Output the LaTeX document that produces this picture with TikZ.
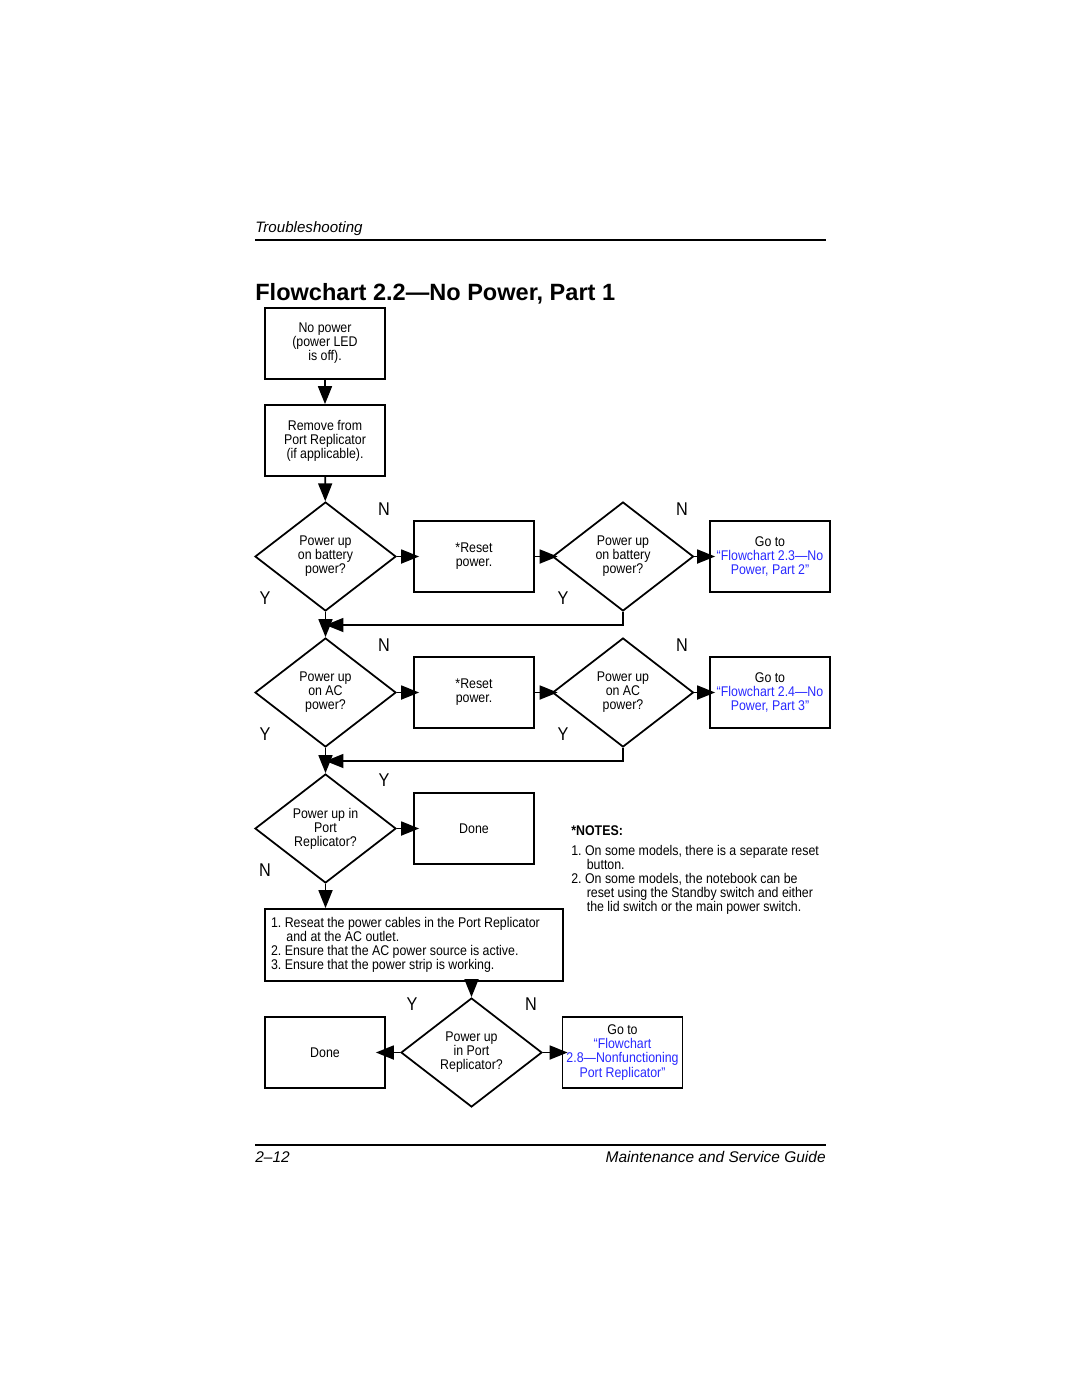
\documentclass[tikz,border=0pt]{standalone}
\usepackage{fontspec}
\setmainfont{Liberation Sans}
\newfontfamily\chartfont{Liberation Sans}[FakeStretch=0.88]
\usetikzlibrary{arrows.meta,shapes.geometric}
\definecolor{linkblue}{RGB}{40,40,255}
\frenchspacing
\tikzset{
  stepbox/.style={draw,line width=1pt,minimum width=2.4cm,minimum height=1.42cm,
    inner sep=0pt,align=center,font=\chartfont\fontsize{8}{8}\selectfont},
  query/.style={draw,diamond,line width=1pt,minimum width=2.82cm,minimum height=2.18cm,
    inner sep=0pt,align=center,font=\chartfont\fontsize{8}{8}\selectfont},
  yn/.style={inner sep=0pt,font=\chartfont\fontsize{10.5}{10.5}\selectfont},
  flow/.style={-{Triangle[length=0.36cm,width=0.28cm]},line width=1pt},
  into/.style={shorten >=-0.12cm},
}
\begin{document}
\begin{tikzpicture}[x=0.02cm,y=-0.02cm]
    \useasboundingbox (0,0) rectangle (1080,1397);

    % page header
    \node[anchor=base west,inner sep=0pt,font=\itshape\fontsize{8.6}{8.6}\selectfont] (head) at (255,232) {Troubleshooting};
    \draw[line width=0.6pt] (255,240) -- (826,240);
    \node[anchor=base west,inner sep=0pt,font=\bfseries\fontsize{13.4}{13.4}\selectfont] (title) at (255,300) {Flowchart 2.2—No Power, Part 1};

    % chart
    \node[stepbox] (nopower) at (325,343.5) {No power\\(power LED\\is off).};
    \node[stepbox] (remove)  at (325,440.5) {Remove from\\Port Replicator\\(if applicable).};

    \node[query]   (bat1)    at (325.5,556.5) {Power up\\on battery\\power?};
    \node[stepbox] (reset1)  at (474,556.5)   {*Reset\\power.};
    \node[query]   (bat2)    at (623,556.5)   {Power up\\on battery\\power?};
    \node[stepbox] (goto23)  at (770,556.5)   {Go to\\\textcolor{linkblue}{“Flowchart 2.3—No}\\\textcolor{linkblue}{Power, Part 2”}};

    \node[query]   (ac1)     at (325.5,692.5) {Power up\\on AC\\power?};
    \node[stepbox] (reset2)  at (474,692.5)   {*Reset\\power.};
    \node[query]   (ac2)     at (623,692.5)   {Power up\\on AC\\power?};
    \node[stepbox] (goto24)  at (770,692.5)   {Go to\\\textcolor{linkblue}{“Flowchart 2.4—No}\\\textcolor{linkblue}{Power, Part 3”}};

    \node[query]   (port1)   at (325.5,828.5) {Power up in\\Port\\Replicator?};
    \node[stepbox] (done1)   at (474,828.5)   {Done};

    \node[draw,line width=1pt,text width=5.72cm,inner xsep=0.12cm,minimum height=1.44cm,
          align=flush left,font=\chartfont\fontsize{8}{8}\selectfont] (fixes) at (414,945)
         {1. Reseat the power cables in the Port Replicator\\
          \hspace*{1.1em}and at the AC outlet.\\
          2. Ensure that the AC power source is active.\\
          3. Ensure that the power strip is working.};

    \node[query]   (port2)   at (471.5,1052.5) {Power up\\in Port\\Replicator?};
    \node[stepbox] (done2)   at (325,1052.5)   {Done};
    \node[stepbox] (goto28)  at (622.5,1052.5) {Go to\\\textcolor{linkblue}{“Flowchart}\\\textcolor{linkblue}{2.8—Nonfunctioning}\\\textcolor{linkblue}{Port Replicator”}};

    % Y / N labels
    \node[yn] (n1) at (384,509) {N};
    \node[yn] (n2) at (682,509) {N};
    \node[yn] (y1) at (265,598) {Y};
    \node[yn] (y2) at (563,598) {Y};
    \node[yn] (n3) at (384,645) {N};
    \node[yn] (n4) at (682,645) {N};
    \node[yn] (y3) at (265,734) {Y};
    \node[yn] (y4) at (563,734) {Y};
    \node[yn] (y5) at (384,780) {Y};
    \node[yn] (n5) at (265,870) {N};
    \node[yn] (y6) at (412,1004) {Y};
    \node[yn] (n6) at (531,1004) {N};

    \coordinate (joinA) at (325.5,625);
    \coordinate (joinB) at (325.5,761);

    \draw[flow] (nopower) -- (remove);
    \draw[flow] (remove) -- (bat1);
    \draw[flow,into] (bat1) -- (reset1);
    \draw[flow,into] (reset1) -- (bat2);
    \draw[flow,into] (bat2) -- (goto23);
    \draw[flow] (bat1) -- (ac1);
    \draw[flow] (bat2.south) |- (joinA);
    \draw[flow,into] (ac1) -- (reset2);
    \draw[flow,into] (reset2) -- (ac2);
    \draw[flow,into] (ac2) -- (goto24);
    \draw[flow] (ac1) -- (port1);
    \draw[flow] (ac2.south) |- (joinB);
    \draw[flow,into] (port1) -- (done1);
    \draw[flow] (port1.south) -- (port1.south |- fixes.north);
    \draw[flow] (fixes.south -| port2.north) -- (port2);
    \draw[flow,shorten >=-0.2cm] (port2) -- (done2);
    \draw[flow,into] (port2) -- (goto28);

    % notes
    \node[anchor=north west,inner sep=0pt,align=left,font=\chartfont\fontsize{8}{8}\selectfont] (notes) at (571,825)
         {{\bfseries *NOTES:}\\[3.5pt]
          1. On some models, there is a separate reset\\
          \hspace*{1.1em}button.\\
          2. On some models, the notebook can be\\
          \hspace*{1.1em}reset using the Standby switch and either\\
          \hspace*{1.1em}the lid switch or the main power switch.};

    % page footer
    \draw[line width=0.6pt] (255,1145) -- (826,1145);
    \node[anchor=base west,inner sep=0pt,font=\itshape\fontsize{8.8}{8.8}\selectfont] (pageno) at (255,1162) {2–12};
    \node[anchor=base east,inner sep=0pt,font=\itshape\fontsize{8.8}{8.8}\selectfont] (guide) at (826,1162) {Maintenance and Service Guide};
\end{tikzpicture}
\end{document}
